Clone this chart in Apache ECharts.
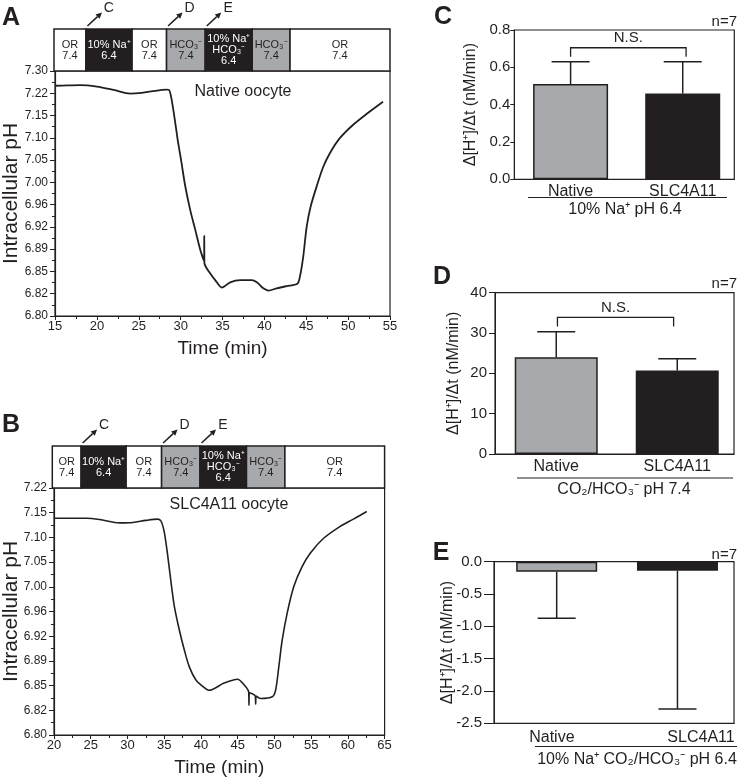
<!DOCTYPE html>
<html><head><meta charset="utf-8">
<script src="https://cdn.jsdelivr.net/npm/echarts@6/dist/echarts.min.js"></script>
<style>html,body{margin:0;padding:0;background:#fff}#c{width:739px;height:779px}</style>
</head><body><div id="c"></div>
<script>
// ---------------- data ----------------
const timeA = [15, 16.5, 18, 20, 22, 24, 25, 26.5, 28.3, 28.6, 28.86, 29.25, 29.65, 30.05, 30.56, 31.15, 31.75, 32.35, 32.8, 32.82, 32.84, 33.54, 34.13, 34.93, 35.92, 37.11, 38.5, 39.1, 39.88, 40.48, 41.48, 42.67, 43.93, 44.25, 44.64, 45.05, 45.52, 46.24, 47.02, 47.82, 49.01, 50.6, 52.19, 54.17];
const phA = [7.247, 7.248, 7.249, 7.244, 7.233, 7.221, 7.222, 7.228, 7.234, 7.233, 7.211, 7.152, 7.092, 7.046, 6.992, 6.949, 6.916, 6.885, 6.869, 6.907, 6.866, 6.851, 6.842, 6.832, 6.839, 6.842, 6.842, 6.839, 6.831, 6.828, 6.831, 6.834, 6.837, 6.847, 6.875, 6.921, 6.955, 6.992, 7.031, 7.061, 7.096, 7.130, 7.159, 7.195];
const timeB = [20, 22, 24.43, 26.2, 28.94, 30.75, 32.5, 34.13, 34.58, 35.03, 35.49, 35.94, 36.38, 37.06, 37.74, 38.42, 39.32, 40.23, 41.12, 43.15, 44.97, 45.87, 46.5, 46.54, 46.58, 47.4, 47.45, 47.5, 48.12, 49.71, 50.16, 50.6, 51.06, 51.74, 52.63, 53.77, 54.9, 56.7, 58.96, 60.76, 62.57];
const phB = [7.141, 7.141, 7.141, 7.138, 7.130, 7.131, 7.136, 7.139, 7.134, 7.107, 7.057, 7.007, 6.967, 6.930, 6.901, 6.878, 6.861, 6.853, 6.848, 6.857, 6.862, 6.855, 6.846, 6.830, 6.845, 6.841, 6.831, 6.841, 6.838, 6.840, 6.848, 6.878, 6.915, 6.956, 7.000, 7.037, 7.064, 7.095, 7.122, 7.139, 7.158];

// y axis: linear in [H+] (nM), labelled in pH
const tickNM = [50, 60, 70, 80, 90, 100, 110, 120, 130, 140, 150, 160];
const tickPH = ['7.30', '7.22', '7.15', '7.10', '7.05', '7.00', '6.96', '6.92', '6.89', '6.85', '6.82', '6.80'];

const solutionNames = ['OR\n7.4', '10% Na⁺\n6.4', 'HCO₃⁻\n7.4', '10% Na⁺\nHCO₃⁻\n6.4'];
const segStartA = [15, 18.8, 24.3, 28.4, 33.0, 38.6, 43.1];
const segEndA = [18.8, 24.3, 28.4, 33.0, 38.6, 43.1, 55];
const segSolA = [0, 1, 0, 2, 3, 2, 0];
const segStartB = [20, 23.9, 30.0, 34.8, 40.0, 46.3, 51.5];
const segEndB = [23.9, 30.0, 34.8, 40.0, 46.3, 51.5, 65];
const segSolB = [0, 1, 0, 2, 3, 2, 0];
const arrowLabels = ['C', 'D', 'E'];
const arrowTimesA = [18.8, 28.4, 33.0];
const arrowTimesB = [23.9, 34.8, 40.0];

const barCategories = ['Native', 'SLC4A11'];
const meanC = [0.51, 0.46];  const errC = [0.12, 0.17];
const meanD = [24.0, 20.7];  const errD = [6.3, 2.9];
const meanE = [-0.155, -0.14]; const errE = [0.72, 2.14];
const nsXC = [1.0, 2.03]; const nsYC = [0.705, 0.657];
const nsXD = [1.01, 1.97]; const nsYD = [33.9, 31.6];
const conditionC = '10% Na⁺ pH 6.4';
const conditionD = 'CO₂/HCO₃⁻ pH 7.4';
const conditionE = '10% Na⁺ CO₂/HCO₃⁻ pH 6.4';
const nLabel = 'n=7';

// ---------------- styling ----------------
const INK = '#231f20', GREY = '#a7a9ac', FONT = '"Liberation Sans", Arial, Helvetica, sans-serif';
const toNM = ph => Math.pow(10, 9 - ph);

function protoRender(params, api) {
  const s = api.value(0), e = api.value(1), k = api.value(2);
  const p0 = api.coord([s, 1]), p1 = api.coord([e, 0]);
  const dark = (k === 1 || k === 3);
  const fill = k === 2 ? GREY : (dark ? INK : '#fff');
  return { type: 'group', children: [
    { type: 'rect', shape: { x: p0[0], y: p0[1], width: p1[0] - p0[0], height: p1[1] - p0[1] },
      style: { fill: fill, stroke: INK, lineWidth: 1.5 } },
    { type: 'text', style: { text: solutionNames[k], x: (p0[0] + p1[0]) / 2, y: (p0[1] + p1[1]) / 2,
      align: 'center', verticalAlign: 'middle', fill: dark ? '#fff' : INK,
      font: '11px ' + FONT, lineHeight: 11 } }
  ]};
}
function arrowRender(params, api) {
  const p = api.coord([api.value(0), 1]);
  const x0 = p[0] + 1.5, y0 = p[1] - 3, x1 = p[0] + 16, y1 = p[1] - 16.5;
  const ang = Math.atan2(y1 - y0, x1 - x0);
  const L = 6, W = 3;
  const bx = x1 - L * Math.cos(ang), by = y1 - L * Math.sin(ang);
  const nx = -Math.sin(ang), ny = Math.cos(ang);
  return { type: 'group', children: [
    { type: 'line', shape: { x1: x0, y1: y0, x2: bx, y2: by }, style: { stroke: INK, lineWidth: 1.5 } },
    { type: 'polygon', shape: { points: [[x1, y1], [bx + nx * W, by + ny * W], [bx - nx * W, by - ny * W]] }, style: { fill: INK } },
    { type: 'text', style: { text: arrowLabels[params.dataIndex], x: p[0] + 23, y: p[1] - 21,
      align: 'center', verticalAlign: 'middle', font: '14px ' + FONT, fill: INK } }
  ]};
}
function errRender(params, api) {
  const x = api.value(0), v = api.value(1), e = api.value(2);
  const end = v >= 0 ? v + e : v - e;
  const a = api.coord([x, v]), b = api.coord([x, end]);
  return { type: 'group', children: [
    { type: 'line', shape: { x1: a[0], y1: a[1], x2: b[0], y2: b[1] }, style: { stroke: INK, lineWidth: 1.5 } },
    { type: 'line', shape: { x1: b[0] - 19, y1: b[1], x2: b[0] + 19, y2: b[1] }, style: { stroke: INK, lineWidth: 1.5 } }
  ]};
}
function nsRender(params, api) {
  const xa = api.value(0), xb = api.value(1), top = api.value(2), end = api.value(3);
  const a = api.coord([xa, end]), b = api.coord([xa, top]), c = api.coord([xb, top]), d = api.coord([xb, end]);
  return { type: 'group', children: [
    { type: 'polyline', shape: { points: [a, b, c, d] }, style: { stroke: INK, lineWidth: 1.3, fill: null } },
    { type: 'text', style: { text: 'N.S.', x: (b[0] + c[0]) / 2, y: b[1] - 2, align: 'center', verticalAlign: 'bottom',
      font: '15px ' + FONT, fill: INK } }
  ]};
}

const txt = (size, extra) => Object.assign({ color: INK, fontFamily: FONT, fontSize: size }, extra || {});

function traceX(grid, min, max) {
  return { gridIndex: grid, type: 'value', min: min, max: max, interval: 5,
    axisLine: { lineStyle: { color: INK, width: 1.2 } },
    axisTick: { length: 4, lineStyle: { color: INK } },
    minorTick: { show: true, splitNumber: 2, length: 3, lineStyle: { color: INK } },
    splitLine: { show: false },
    axisLabel: txt(13, { margin: 4 }),
    name: 'Time (min)', nameLocation: 'middle', nameGap: 23, nameTextStyle: txt(19) };
}
function traceY(grid, min, gap) {
  return { gridIndex: grid, type: 'value', min: min, max: 160, interval: 10, inverse: true,
    axisLine: { lineStyle: { color: INK, width: 1.2 } },
    axisTick: { length: 5, lineStyle: { color: INK } },
    minorTick: { show: true, splitNumber: 2, length: 3, lineStyle: { color: INK } },
    splitLine: { show: false },
    axisLabel: txt(12, { margin: 7, formatter: v => tickPH[tickNM.indexOf(Math.round(v))] }),
    name: 'Intracellular pH', nameLocation: 'middle', nameGap: gap, nameMoveOverlap: false, nameTextStyle: txt(21) };
}
function hiddenX(grid, min, max) { return { gridIndex: grid, type: 'value', min: min, max: max, show: false }; }
function hiddenY(grid) { return { gridIndex: grid, type: 'value', min: 0, max: 1, show: false }; }
function barX(grid, min, max, labelPos, margin) {
  return { gridIndex: grid, type: 'value', min: min, max: max,
    axisLine: { onZero: false, lineStyle: { color: INK } }, axisTick: { show: false }, splitLine: { show: false },
    axisLabel: txt(16, { margin: margin, customValues: labelPos,
      formatter: v => barCategories[v < 1.5 ? 0 : 1] }) };
}
function barY(grid, min, max, interval, digits, tick, margin, gap) {
  return { gridIndex: grid, type: 'value', min: min, max: max, interval: interval,
    axisLine: { show: true, lineStyle: { color: INK } },
    axisTick: { show: true, length: tick, lineStyle: { color: INK } },
    splitLine: { show: false },
    axisLabel: txt(15, { margin: margin, formatter: v => v.toFixed(digits) }),
    name: 'Δ[H⁺]/Δt (nM/min)', nameLocation: 'middle', nameGap: gap, nameMoveOverlap: false, nameTextStyle: txt(16) };
}
function bars(ax, means, width) {
  return { type: 'bar', xAxisIndex: ax, yAxisIndex: ax, barWidth: width,
    data: means.map((v, i) => [i + 1, v]),
    itemStyle: { color: p => p.dataIndex === 0 ? GREY : INK, borderColor: INK, borderWidth: 1.5 } };
}
function errs(ax, means, e) {
  return { type: 'custom', xAxisIndex: ax, yAxisIndex: ax, renderItem: errRender, z: 5, clip: false,
    data: means.map((v, i) => [i + 1, v, e[i]]) };
}
function bracket(ax, xs, ys) {
  return { type: 'custom', xAxisIndex: ax, yAxisIndex: ax, renderItem: nsRender, z: 5, clip: false,
    data: [[xs[0], xs[1], ys[0], ys[1]]] };
}
const boxGrid = (l, t, w, h) => ({ left: l, top: t, width: w, height: h, show: true, borderColor: INK, borderWidth: 1.2 });

const option = {
  backgroundColor: '#fff',
  animation: false,
  grid: [
    { left: 54, top: 29, width: 336, height: 42 },
    boxGrid(54, 71, 336, 245),
    { left: 52.3, top: 446, width: 332.3, height: 42 },
    boxGrid(52.3, 488, 332.3, 247),
    boxGrid(514.3, 30, 220, 149.3),
    boxGrid(495, 292.7, 239, 161.3),
    boxGrid(494, 561.7, 240, 161.6)
  ],
  xAxis: [
    hiddenX(0, 15, 55), traceX(1, 15, 55), hiddenX(2, 20, 65), traceX(3, 20, 65),
    barX(4, 0.498, 2.46, [1, 2], 4),
    barX(5, 0.494, 2.469, [1, 2], 5),
    barX(6, 0.481, 2.468, [0.96, 2.195], 6)
  ],
  yAxis: [
    hiddenY(0), traceY(1, 50, 33), hiddenY(2), traceY(3, 60, 32),
    barY(4, 0, 0.8, 0.2, 1, 4, 4, 36),
    barY(5, 0, 40, 10, 0, 6, 8, 33),
    barY(6, -2.5, 0, 0.5, 1, 10, 12, 38)
  ],
  series: [
    { type: 'custom', xAxisIndex: 0, yAxisIndex: 0, renderItem: protoRender, clip: false,
      data: segStartA.map((s, i) => [s, segEndA[i], segSolA[i]]) },
    { type: 'custom', xAxisIndex: 0, yAxisIndex: 0, renderItem: arrowRender, clip: false,
      data: arrowTimesA.map(t => [t]) },
    { type: 'line', xAxisIndex: 1, yAxisIndex: 1, showSymbol: false, smooth: 0.3,
      lineStyle: { color: INK, width: 1.8 }, data: timeA.map((t, i) => [t, toNM(phA[i])]) },
    { type: 'custom', xAxisIndex: 2, yAxisIndex: 2, renderItem: protoRender, clip: false,
      data: segStartB.map((s, i) => [s, segEndB[i], segSolB[i]]) },
    { type: 'custom', xAxisIndex: 2, yAxisIndex: 2, renderItem: arrowRender, clip: false,
      data: arrowTimesB.map(t => [t]) },
    { type: 'line', xAxisIndex: 3, yAxisIndex: 3, showSymbol: false, smooth: 0.3,
      lineStyle: { color: INK, width: 1.6 }, data: timeB.map((t, i) => [t, toNM(phB[i])]) },
    bars(4, meanC, 75), errs(4, meanC, errC), bracket(4, nsXC, nsYC),
    bars(5, meanD, 83), errs(5, meanD, errD), bracket(5, nsXD, nsYD),
    bars(6, meanE, 81), errs(6, meanE, errE)
  ],
  graphic: [
    ...[['A', 11, 18], ['B', 11, 425], ['C', 443, 17], ['D', 442, 277], ['E', 441, 553]].map(([t, x, y]) => ({
      type: 'text', x: x, y: y, style: { text: t, font: 'bold 25px ' + FONT, fill: INK, align: 'center', verticalAlign: 'middle' } })),
    { type: 'text', x: 243, y: 92, style: { text: 'Native oocyte', font: '16px ' + FONT, fill: INK, align: 'center', verticalAlign: 'middle' } },
    { type: 'text', x: 229, y: 505, style: { text: 'SLC4A11 oocyte', font: '16px ' + FONT, fill: INK, align: 'center', verticalAlign: 'middle' } },
    ...[[737, 22], [737, 284], [737, 555]].map(([x, y]) => ({
      type: 'text', x: x, y: y, style: { text: nLabel, font: '15px ' + FONT, fill: INK, align: 'right', verticalAlign: 'middle' } })),
    { type: 'line', shape: { x1: 528, y1: 197.5, x2: 727, y2: 197.5 }, style: { stroke: INK, lineWidth: 1 } },
    { type: 'line', shape: { x1: 517, y1: 478, x2: 733, y2: 478 }, style: { stroke: INK, lineWidth: 1 } },
    { type: 'line', shape: { x1: 535, y1: 746.5, x2: 737, y2: 746.5 }, style: { stroke: INK, lineWidth: 1 } },
    { type: 'text', x: 625, y: 210, style: { text: conditionC, font: '16px ' + FONT, fill: INK, align: 'center', verticalAlign: 'middle' } },
    { type: 'text', x: 624, y: 490, style: { text: conditionD, font: '16px ' + FONT, fill: INK, align: 'center', verticalAlign: 'middle' } },
    { type: 'text', x: 637, y: 760, style: { text: conditionE, font: '16px ' + FONT, fill: INK, align: 'center', verticalAlign: 'middle' } }
  ]
};
const chart = echarts.init(document.getElementById('c'), null, { renderer: 'canvas' });
chart.setOption(option);
</script>
</body></html>
